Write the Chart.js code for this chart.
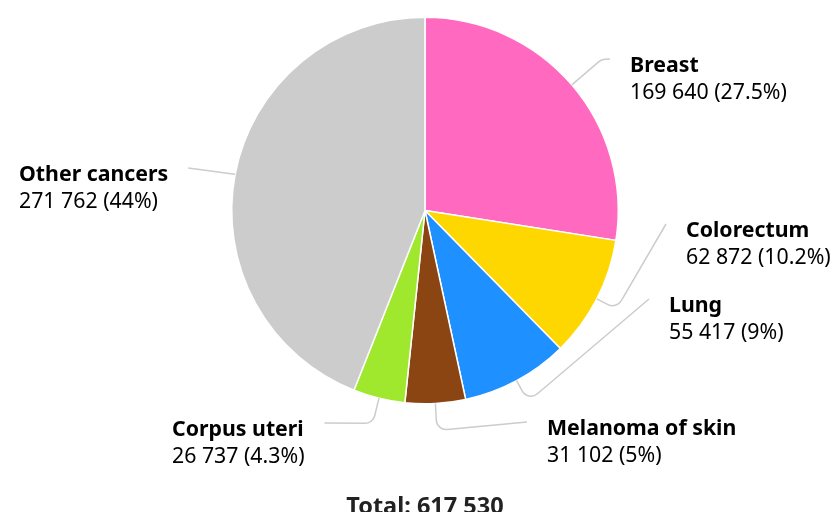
<!DOCTYPE html>
<html>
<head>
<meta charset="utf-8">
<script src="https://cdn.jsdelivr.net/npm/chart.js@4.4.1/dist/chart.umd.min.js"></script>
<style>
  html, body { margin: 0; padding: 0; background: #fff; }
  #wrap { width: 832px; height: 512px; position: relative; }
</style>
</head>
<body>
<div id="wrap"><canvas id="pie"></canvas></div>
<script>
// data
const sites = ["Breast", "Colorectum", "Lung", "Melanoma of skin", "Corpus uteri", "Other cancers"];
const cases = [169640, 62872, 55417, 31102, 26737, 271762];
const colours = ["#ff69c0", "#ffd700", "#1e90ff", "#8b4513", "#a0e82e", "#cccccc"];

// where each label sits (x of text block, y of first line centre) and which side of the pie it is on
const labelPos = [
  {x: 630, y: 64, side: "right"},
  {x: 686, y: 229, side: "right"},
  {x: 669, y: 304, side: "right"},
  {x: 547, y: 427, side: "right"},
  {x: 172, y: 428, side: "left"},
  {x: 19, y: 173, side: "left"}
];
const elbowOut = [39, 22, 24, 27, 26, 2];

const total = cases.reduce((a, b) => a + b, 0);

function fmt(n) {
  return String(n).replace(/\B(?=(\d{3})+(?!\d))/g, " ");
}
function pct(n) {
  let p = (n / total * 100).toFixed(1);
  if (p.endsWith(".0")) p = p.slice(0, -2);
  return p + "%";
}

const labelPlugin = {
  id: "pieLabels",
  afterDraw(chart) {
    const ctx = chart.ctx;
    const arcs = chart.getDatasetMeta(0).data;
    ctx.save();
    arcs.forEach((arc, i) => {
      const mid = (arc.startAngle + arc.endAngle) / 2;
      const r = arc.outerRadius;
      const dx = Math.cos(mid), dy = Math.sin(mid);
      const lp = labelPos[i];
      const title = sites[i];
      const value = fmt(cases[i]) + " (" + pct(cases[i]) + ")";

      ctx.font = "bold 21.3px 'Noto Sans'";
      const w1 = ctx.measureText(title).width;
      ctx.font = "21.3px 'Noto Sans'";
      const w2 = ctx.measureText(value).width;
      const bw = Math.max(w1, w2);

      const sx = arc.x + dx * r, sy = arc.y + dy * r;
      const ex = arc.x + dx * (r + elbowOut[i]), ey = arc.y + dy * (r + elbowOut[i]);
      const tx = lp.side === "right" ? lp.x - 20 : lp.x + bw + 20;
      const ty = lp.y - 5;

      ctx.beginPath();
      ctx.strokeStyle = "#cccccc";
      ctx.lineWidth = 1.5;
      ctx.moveTo(sx, sy);
      ctx.arcTo(ex, ey, tx, ty, 10);
      ctx.lineTo(tx, ty);
      ctx.stroke();

      ctx.fillStyle = "#000";
      ctx.textAlign = "left";
      ctx.textBaseline = "alphabetic";
      ctx.font = "bold 21.3px 'Noto Sans'";
      ctx.fillText(title, lp.x, lp.y + 7.5);
      ctx.font = "21.3px 'Noto Sans'";
      ctx.fillText(value, lp.x, lp.y + 35);
    });

    ctx.font = "bold 23.5px 'Noto Sans'";
    ctx.fillStyle = "#222";
    ctx.textAlign = "center";
    ctx.textBaseline = "alphabetic";
    ctx.fillText("Total: " + fmt(total), 425, 513.5);
    ctx.restore();
  }
};

new Chart(document.getElementById("pie"), {
  type: "pie",
  data: {
    labels: sites,
    datasets: [{
      data: cases,
      backgroundColor: colours,
      borderColor: "#fff",
      borderWidth: 1.5
    }]
  },
  options: {
    responsive: true,
    maintainAspectRatio: false,
    animation: false,
    layout: { padding: { top: 16.5, bottom: 107.5, left: 231, right: 213 } },
    plugins: {
      legend: { display: false },
      tooltip: { enabled: false }
    }
  },
  plugins: [labelPlugin]
});
</script>
</body>
</html>
